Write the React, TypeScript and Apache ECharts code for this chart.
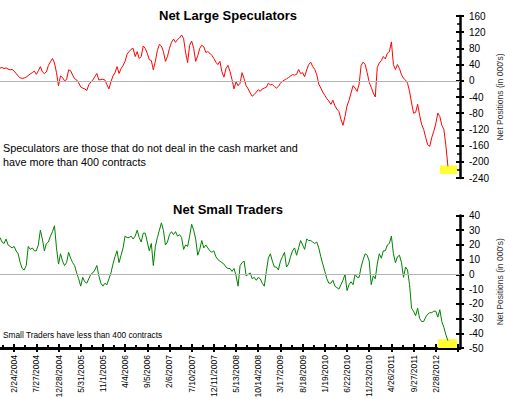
import React, { useEffect, useRef } from "react";
import * as echarts from "echarts";

// Weekly dates (Tuesdays) on the shared category axis
const START = { y: 2003, m: 10, d: 18 };
const WEEK_COUNT = 457;
const weekDates: string[] = [];
for (let i = 0; i < WEEK_COUNT; i++) {
  const dt = new Date(START.y, START.m, START.d + 7 * i);
  weekDates.push(`${dt.getMonth() + 1}/${dt.getDate()}/${dt.getFullYear()}`);
}

// Shown date tick labels
const tickLabels = [
  "2/24/2004", "7/27/2004", "12/28/2004", "5/31/2005", "11/1/2005", "4/4/2006",
  "9/5/2006", "2/6/2007", "7/10/2007", "12/11/2007", "5/13/2008", "10/14/2008",
  "3/17/2009", "8/18/2009", "1/19/2010", "6/22/2010", "11/23/2010", "4/26/2011",
  "9/27/2011", "2/28/2012",
];

// Net Large Speculators (000's), one value every 2 weeks from 11/18/2003
const largeSpec = [
  31, 33, 30, 32, 29, 27, 28, 24, 18, 12, 7, 6, 7, 9, 13, 17, 20, 24, 16, 25,
  35, 22, 18, 22, 38, 47, 55, 44, 20, -12, 12, 8, 0, 3, 27, 25, 14, 5, 2, -5,
  -15, -18, -20, -24, -10, -3, 2, 10, 18, 2, 3, 4, 2, -10, -20, -2, 12, 20, 35, 18,
  30, 38, 48, 66, 72, 78, 80, 60, 72, 55, 60, 86, 80, 68, 52, 50, 27, 48, 75,
  90, 86, 72, 48, 60, 80, 95, 103, 95, 102, 106, 113, 104, 70, 45, 88, 98, 80, 48, 62,
  80, 88, 84, 70, 72, 68, 63, 55, 46, 40, 48, 22, 9, 30, 38, 23, 3, -20, -2, -12,
  -6, 20, 5, -12, -20, -30, -38, -34, -28, -22, -26, -20, -18, -16, -6, -10, -9, -14, -18, -14,
  -6, -1, 2, 5, 8, 12, 15, 14, 16, 28, 18, 20, 10, 27, 40, 46, 35, 28, 15, -8,
  -18, -28, -36, -44, -50, -58, -48, -62, -70, -76, -95, -110, -88, -62, -48, -30, -12, -18, -26, -8,
  38, 46, 40, 20, -4, -16, -30, -40, 33, 44, 50, 60, 54, 68, 72, 96, 40, 28, 40,
  30, 15, 6, 2, -6, -26, -55, -80, -78, -58, -85, -108, -120, -140, -158, -162, -140, -125, -106, -80,
  -88, -110, -120, -160, -211,
];

// Net Small Traders (000's), one value every 2 weeks from 11/18/2003
const smallTraders = [
  25, 22, 21, 24, 20, 19, 18, 19, 16, 14, 8, 4, 3, 6, 19, 17, 18, 16, 16, 20,
  30, 24, 16, 21, 22, 26, 29, 33, 18, 7, 14, 9, 6, 8, 15, 11, 8, 6, 1, -3,
  -8, -2, -5, -6, -3, 0, 1, 3, 6, -1, -6, -8, -6, -7, -3, 1, 7, 12, 16, 8,
  13, 18, 26, 25, 25, 26, 24, 26, 30, 25, 22, 28, 28, 22, 16, 21, 6, 19, 25,
  30, 35, 30, 20, 22, 27, 29, 27, 29, 26, 27, 25, 17, 20, 19, 26, 34, 30, 24, 13,
  17, 23, 18, 20, 18, 16, 15, 16, 12, 10, 9, 8, 7, 5, 4, 4, 2, 4, -1, -8,
  6, 8, 9, -1, 0, 1, -3, -2, -4, -2, -3, -6, -8, 2, 11, 14, 9, 5, 5, 3,
  9, 12, 15, 5, 7, 12, 16, 18, 13, 18, 23, 20, 17, 24, 23, 23, 22, 21, 22, 18,
  12, 7, 2, -3, -6, -6, -4, -8, -9, -10, -7, -4, 0, -11, -7, -5, -7, 0, -2, -2,
  5, 10, 14, 13, 9, -7, -1, -3, 7, 14, 11, 16, 16, 20, 21, 26, 14, 8, 12,
  13, 8, -2, 5, 3, -7, -23, -25, -28, -23, -30, -32, -32, -29, -27, -26, -26, -25, -25, -29,
  -24, -32, -36, -41, -45,
];

const largeTicks = { min: -240, max: 160, interval: 40 };
const smallTicks = { min: -50, max: 40, interval: 10 };

const FONT = "'Liberation Sans', Arial, sans-serif";

export default function App() {
  const ref = useRef<HTMLDivElement>(null);
  useEffect(() => {
    if (!ref.current) return;
    const chart = echarts.init(ref.current, undefined, { renderer: "svg" });
    const tickSet = new Set(tickLabels);
    const isMajor = (idx: number) => idx >= 14 && (idx - 14) % 22 === 0;
    const isMinor = (idx: number) => idx >= 3 && (idx - 3) % 22 === 0;

    const hiddenX = (gridIndex: number) => ({
      type: "category",
      gridIndex,
      data: weekDates,
      boundaryGap: false,
      show: false,
    });

    const tickX = (inside: boolean, fn: (i: number) => boolean, len: number, showLine: boolean, showLabel: boolean) => ({
      type: "category",
      gridIndex: 1,
      position: "bottom",
      data: weekDates,
      boundaryGap: false,
      axisLine: { show: showLine, onZero: false, lineStyle: { color: "#000", width: 3 } },
      axisTick: { show: true, inside, length: len, interval: (i: number) => fn(i), lineStyle: { color: "#000", width: 2 } },
      axisLabel: {
        show: showLabel,
        rotate: 90,
        interval: (_i: number, v: string) => tickSet.has(v),
        fontSize: 8.5,
        fontFamily: FONT,
        color: "#000",
        margin: 7,
      },
      splitLine: { show: false },
    });

    const yMain = (gridIndex: number, t: any, name: string) => ({
      type: "value",
      gridIndex,
      position: "right",
      min: t.min,
      max: t.max,
      interval: t.interval,
      axisLine: { show: true, lineStyle: { color: "#000", width: 2.5 } },
      axisTick: { show: true, length: 4, lineStyle: { color: "#000", width: 2 } },
      axisLabel: { fontSize: 10, fontFamily: FONT, color: "#000", margin: 9 },
      splitLine: { show: false },
      name,
      nameLocation: "middle",
      nameRotate: 90,
      nameGap: 35,
      nameMoveOverlap: false,
      nameTextStyle: { fontSize: 8.5, fontFamily: FONT, color: "#333" },
    });
    const yInner = (gridIndex: number, t: any, minor: boolean) => ({
      type: "value",
      gridIndex,
      position: "right",
      min: t.min,
      max: t.max,
      interval: t.interval,
      axisLine: { show: false },
      axisTick: { show: true, inside: true, length: 4, lineStyle: { color: "#000", width: 2 } },
      minorTick: { show: minor, splitNumber: 2, length: 3, lineStyle: { color: "#000", width: 1.5 } },
      axisLabel: { show: false },
      splitLine: { show: false },
    });

    const zeroLine = {
      silent: true,
      symbol: "none",
      label: { show: false },
      lineStyle: { color: "#b4b4b4", width: 1, type: "solid" },
      data: [{ yAxis: 0 }],
    };

    chart.setOption({
      animation: false,
      grid: [
        { left: 0, right: 45, top: 16, height: 162, outerBoundsMode: "none", containLabel: false },
        { left: 0, right: 45, top: 215.5, height: 132.5, outerBoundsMode: "none", containLabel: false },
      ],
      xAxis: [
        hiddenX(0),
        tickX(false, isMajor, 4, true, true),
        tickX(true, isMajor, 4, false, false),
        tickX(true, isMinor, 3, false, false),
      ],
      yAxis: [
        yMain(0, largeTicks, "Net Positions (in 000's)"),
        yInner(0, largeTicks, true),
        yMain(1, smallTicks, "Net Positions (in 000's)"),
        yInner(1, smallTicks, false),
      ],
      series: [
        {
          type: "line",
          xAxisIndex: 0,
          yAxisIndex: 0,
          data: largeSpec.map((v, i) => [i * 2, v]),
          symbol: "none",
          lineStyle: { color: "#ff0000", width: 1 },
          markLine: zeroLine,
          markArea: {
            silent: true,
            itemStyle: { color: "#ffff33" },
            data: [[{ xAxis: weekDates[436], yAxis: -209 }, { xAxis: weekDates[453], yAxis: -230 }]],
          },
          z: 3,
        },
        {
          type: "line",
          xAxisIndex: 1,
          yAxisIndex: 2,
          data: smallTraders.map((v, i) => [i * 2, v]),
          symbol: "none",
          lineStyle: { color: "#008000", width: 1 },
          markLine: zeroLine,
          markArea: {
            silent: true,
            itemStyle: { color: "#ffff33" },
            data: [[{ xAxis: weekDates[434], yAxis: -44 }, { xAxis: weekDates[453], yAxis: -50 }]],
          },
          z: 3,
        },
      ],
      graphic: [
        {
          type: "text", x: 228, y: 15.5,
          style: { text: "Net Large Speculators", font: `bold 13px ${FONT}`, fill: "#000", textAlign: "center", textVerticalAlign: "middle" },
        },
        {
          type: "text", x: 228, y: 209.5,
          style: { text: "Net Small Traders", font: `bold 13px ${FONT}`, fill: "#000", textAlign: "center", textVerticalAlign: "middle" },
        },
        {
          type: "text", x: 3, y: 141,
          style: {
            text: "Speculators are those that do not deal in the cash market and\nhave more than 400 contracts",
            font: `10.8px ${FONT}`, fill: "#000", lineHeight: 14,
          },
        },
        {
          type: "text", x: 3, y: 331,
          style: { text: "Small Traders have less than 400 contracts", font: `8.3px ${FONT}`, fill: "#000" },
        },
      ],
    });
    return () => chart.dispose();
  }, []);
  return <div ref={ref} style={{ position: "absolute", left: 0, top: 0, width: 505, height: 399 }} />;
}
